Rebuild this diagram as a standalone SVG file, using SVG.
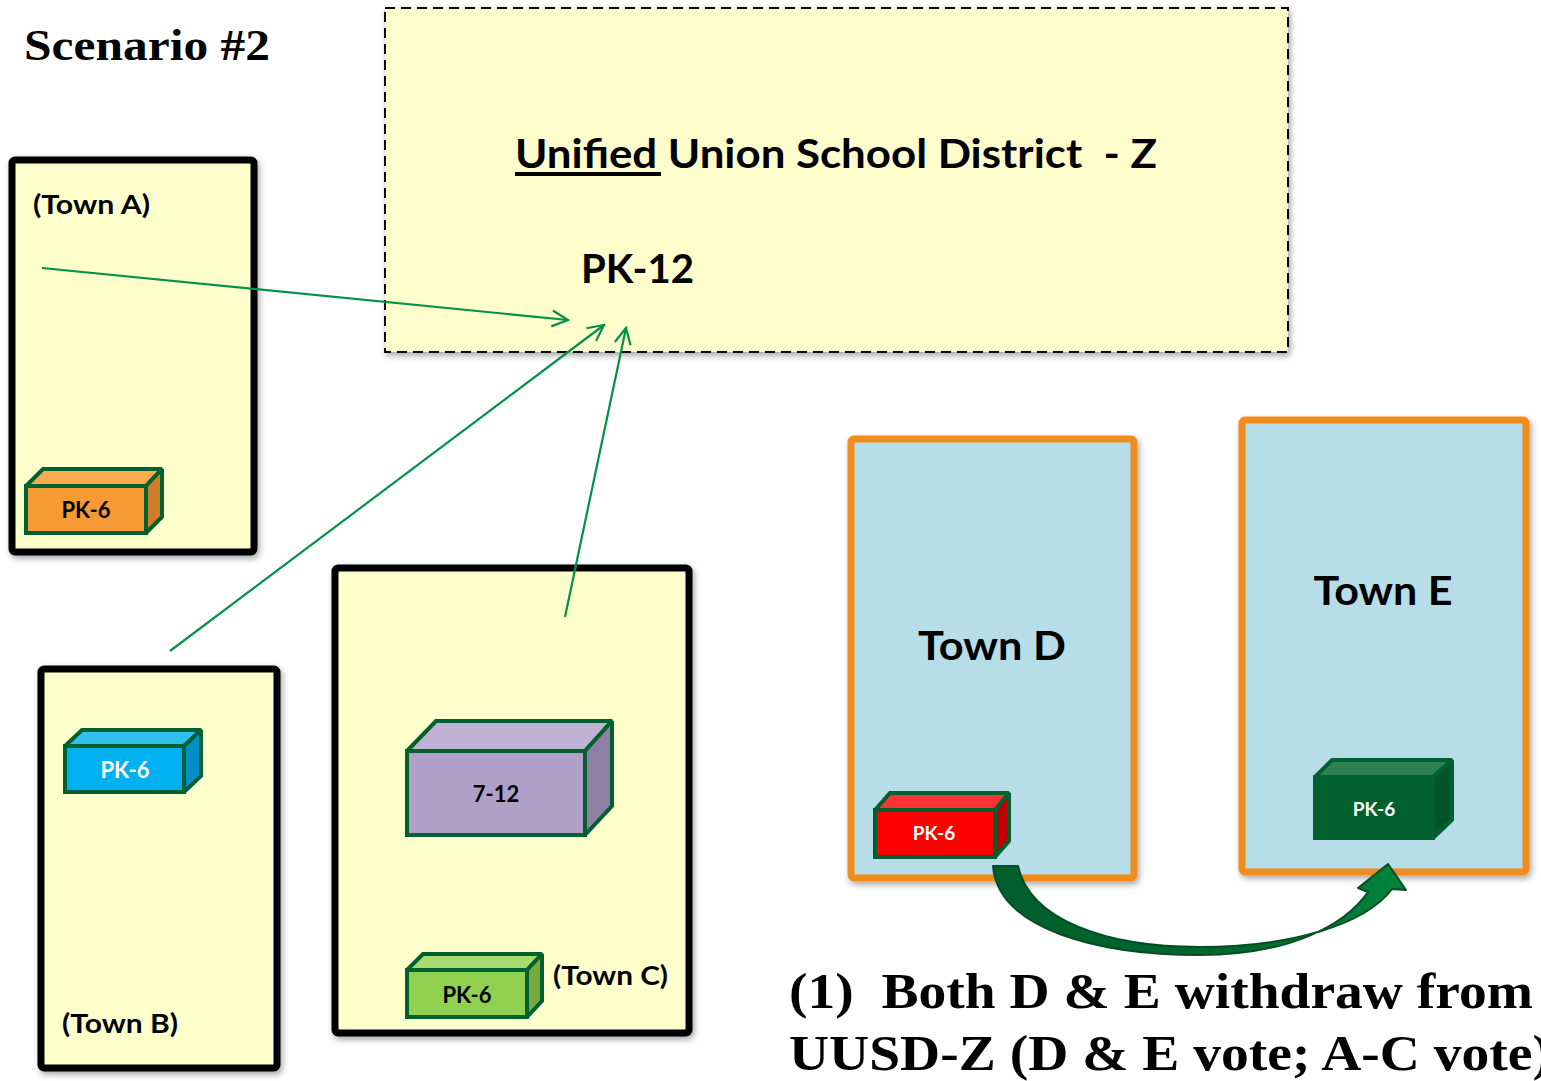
<svg xmlns="http://www.w3.org/2000/svg" width="1541" height="1081" viewBox="0 0 1541 1081">
<style>
.lbl{font-family:Lato,"Open Sans","Liberation Sans",sans-serif;font-weight:bold;fill:#000}
.wlbl{font-family:Lato,"Open Sans","Liberation Sans",sans-serif;font-weight:bold;fill:#fff}
.serif{font-family:"Liberation Serif","DejaVu Serif",serif;font-weight:bold;fill:#000}
.town{fill:#FFFFCC;stroke:#000;stroke-width:7}
.town2{fill:#B7DDE8;stroke:#F18C1E;stroke-width:7}
.bx{stroke:#006030;stroke-width:4;stroke-linejoin:miter;stroke-miterlimit:2}
.conn{stroke:#00914A;stroke-width:2.2;fill:none}
</style>
<defs>
<filter id="sh" x="-10%" y="-10%" width="130%" height="130%">
<feDropShadow dx="2" dy="3" stdDeviation="3" flood-color="#000" flood-opacity="0.35"/>
</filter>
<marker id="open" viewBox="0 0 20 20" refX="18" refY="10" markerWidth="20" markerHeight="20" markerUnits="userSpaceOnUse" orient="auto">
<path d="M2 2 L18 10 L2 18" fill="none" stroke="#00914A" stroke-width="2.2"/>
</marker>
<linearGradient id="ga" x1="0" y1="0" x2="1" y2="0">
<stop offset="0" stop-color="#005E2A"/>
<stop offset="0.6" stop-color="#00682F"/>
<stop offset="1" stop-color="#00853C"/>
</linearGradient>
</defs>
<rect width="1541" height="1081" fill="#fff"/>

<text class="serif" x="24" y="60" font-size="44" textLength="246" lengthAdjust="spacingAndGlyphs">Scenario #2</text>

<g id="district">
<rect x="385" y="8" width="903" height="344" fill="#FFFDCB" stroke="#000" stroke-width="2" stroke-dasharray="10 6" filter="url(#sh)"/>
<text class="lbl" x="515" y="168" font-size="40" textLength="642" lengthAdjust="spacingAndGlyphs" xml:space="preserve">Unified Union School District  - Z</text>
<rect x="515" y="172" width="146" height="4" fill="#000"/>
<text class="lbl" x="581" y="283" font-size="40" textLength="113" lengthAdjust="spacingAndGlyphs">PK-12</text>
</g>

<g id="townA">
<rect class="town" x="12" y="160" width="242" height="392" rx="3" filter="url(#sh)"/>
<text class="lbl" x="33" y="214" font-size="26" textLength="117" lengthAdjust="spacingAndGlyphs">(Town A)</text>
<g id="pk6A">
<polygon class="bx" points="26,486 43,469 162,469 146,486" fill="#FBAA50"/>
<polygon class="bx" points="146,486 162,469 162,517 146,533" fill="#D07D2A"/>
<rect class="bx" x="26" y="486" width="120" height="47" fill="#F79A33"/>
<text class="lbl" x="86" y="518" font-size="22" text-anchor="middle">PK-6</text>
</g>
</g>

<g id="townB">
<rect class="town" x="41" y="669" width="236" height="399" rx="3" filter="url(#sh)"/>
<text class="lbl" x="62" y="1033" font-size="26" textLength="116" lengthAdjust="spacingAndGlyphs">(Town B)</text>
<g id="pk6B">
<polygon class="bx" points="65,746 82,730 201,730 184,746" fill="#2FC0F0"/>
<polygon class="bx" points="184,746 201,730 201,776 184,792" fill="#0090C8"/>
<rect class="bx" x="65" y="746" width="119" height="46" fill="#00B0F0"/>
<text class="wlbl" x="125" y="778" font-size="22" text-anchor="middle">PK-6</text>
</g>
</g>

<g id="townC">
<rect class="town" x="335" y="568" width="354" height="465" rx="3" filter="url(#sh)"/>
<text class="lbl" x="553" y="985" font-size="26" textLength="115" lengthAdjust="spacingAndGlyphs">(Town C)</text>
<g id="box712">
<polygon class="bx" points="407,751 436,721 612,721 585,751" fill="#C0B2D4"/>
<polygon class="bx" points="585,751 612,721 612,806 585,835" fill="#8E80A2"/>
<rect class="bx" x="407" y="751" width="178" height="84" fill="#B0A0C8"/>
<text class="lbl" x="496" y="802" font-size="22" text-anchor="middle">7-12</text>
</g>
<g id="pk6C">
<polygon class="bx" points="407,970 423,954 542,954 527,970" fill="#A8DC70"/>
<polygon class="bx" points="527,970 542,954 542,1001 527,1017" fill="#78AA40"/>
<rect class="bx" x="407" y="970" width="120" height="47" fill="#92D050"/>
<text class="lbl" x="467" y="1003" font-size="22" text-anchor="middle">PK-6</text>
</g>
</g>

<g id="townD">
<rect class="town2" x="851" y="439" width="283" height="439" rx="3" filter="url(#sh)"/>
<text class="lbl" x="992" y="660" font-size="40" text-anchor="middle" textLength="148" lengthAdjust="spacingAndGlyphs">Town D</text>
<g id="pk6D">
<polygon class="bx" points="875,810 890,793 1009,793 995,810" fill="#FF3333"/>
<polygon class="bx" points="995,810 1009,793 1009,841 995,857" fill="#C00000"/>
<rect class="bx" x="875" y="810" width="120" height="47" fill="#FF0000"/>
<text class="wlbl" x="934" y="840" font-size="19" text-anchor="middle">PK-6</text>
</g>
</g>

<g id="townE">
<rect class="town2" x="1242" y="420" width="284" height="452" rx="3" filter="url(#sh)"/>
<text class="lbl" x="1383" y="605" font-size="40" text-anchor="middle" textLength="139" lengthAdjust="spacingAndGlyphs">Town E</text>
<g id="pk6E">
<polygon class="bx" points="1315,777 1332,760 1452,760 1433,777" fill="#2E8050"/>
<polygon class="bx" points="1433,777 1452,760 1452,820 1433,838" fill="#005428"/>
<rect class="bx" x="1315" y="777" width="118" height="61" fill="#00612F"/>
<text class="wlbl" x="1374" y="816" font-size="19" text-anchor="middle">PK-6</text>
</g>
</g>

<g id="connectors">
<line class="conn" x1="42" y1="268" x2="568" y2="320" marker-end="url(#open)"/>
<line class="conn" x1="170" y1="651" x2="604" y2="325" marker-end="url(#open)"/>
<line class="conn" x1="565" y1="617" x2="626" y2="328" marker-end="url(#open)"/>
<path d="M993 866 C998 930 1100 955 1200 955 C1290 955 1345 925 1368 892 L1358 888 L1388 864 L1406 890 L1392 889 C1365 925 1290 947 1200 947 C1105 947 1030 920 1018 866 Z" fill="url(#ga)" stroke="#004E22" stroke-width="2" stroke-linejoin="round"/>
</g>

<text class="serif" x="789" y="1008" font-size="50" textLength="744" lengthAdjust="spacingAndGlyphs" xml:space="preserve">(1)  Both D &amp; E withdraw from</text>
<text class="serif" x="789" y="1070" font-size="50" textLength="762" lengthAdjust="spacingAndGlyphs">UUSD-Z (D &amp; E vote; A-C vote)</text>
</svg>
